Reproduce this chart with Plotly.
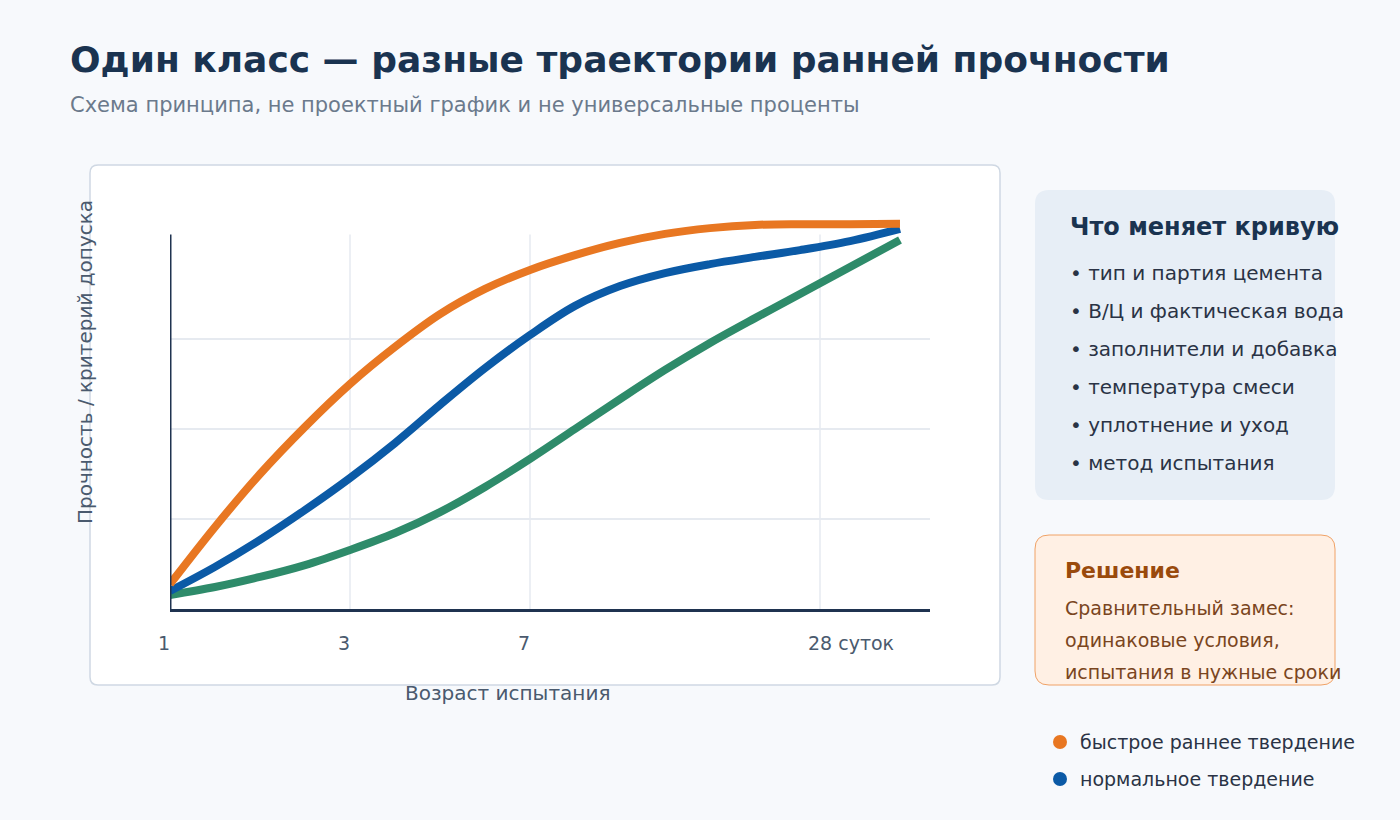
import plotly.graph_objects as go

W, H = 1400, 820

# schematic age axis (positions along the axis, not real days)
tick_pos = [0, 18, 36, 65]
tick_text = ["1", "3", "7", "28 суток"]
y_grid = [25, 50, 75]

# curves
age_x = [0, 4.5, 9, 13.5, 18, 22.5, 27, 31.5, 36, 40.5, 45, 49.5, 54, 58.5, 63, 68, 73]
fast_y = [6.9, 22.8, 37.5, 50.6, 62.5, 72.8, 81.9, 88.9, 94.2, 98.3, 101.7, 104.2, 105.8,
          106.7, 106.9, 106.9, 107.0]
norm_y = [5.0, 11.7, 19.2, 27.5, 36.4, 46.1, 56.7, 66.9, 76.1, 84.2, 89.7, 93.3, 95.8,
          97.8, 99.7, 102.2, 105.6]
slow_y = [3.9, 6.1, 8.9, 12.2, 16.4, 21.1, 26.9, 33.9, 41.7, 50.0, 58.3, 66.4, 73.9,
          80.8, 87.5, 95.0, 102.5]

names = ["быстрое раннее твердение", "нормальное твердение", "медленное твердение"]
colors = ["#e87722", "#0b5aa6", "#2e8b6a"]

factors = ["тип и партия цемента", "В/Ц и фактическая вода", "заполнители и добавка",
           "температура смеси", "уплотнение и уход", "метод испытания"]
decision = ["Сравнительный замес:", "одинаковые условия,", "испытания в нужные сроки"]

FONT = "DejaVu Sans"


def px(x):
    return x / W


def py(y):
    return 1 - y / H


def rounded(x0, y0, x1, y1, r):
    a, b, c, d = px(x0), py(y0), px(x1), py(y1)
    rx, ry = r / W, r / H
    return (f"M{a+rx},{b} L{c-rx},{b} Q{c},{b} {c},{b-ry} L{c},{d+ry} Q{c},{d} {c-rx},{d} "
            f"L{a+rx},{d} Q{a},{d} {a},{d+ry} L{a},{b-ry} Q{a},{b} {a+rx},{b} Z")


fig = go.Figure()
for ys, nm, col in [(slow_y, names[2], colors[2]),
                    (norm_y, names[1], colors[1]),
                    (fast_y, names[0], colors[0])]:
    fig.add_trace(go.Scatter(x=age_x, y=ys, mode="lines", name=nm, showlegend=False,
                             line=dict(color=col, width=8, shape="spline", smoothing=1.0),
                             hoverinfo="skip"))

shapes = [
    dict(type="path", path=rounded(90, 165, 1000, 685, 8), xref="paper", yref="paper",
         fillcolor="white", line=dict(color="#cfd8e3", width=1.5), layer="below"),
    dict(type="path", path=rounded(1035, 190, 1335, 500, 14), xref="paper", yref="paper",
         fillcolor="#e7eef6", line=dict(width=0), layer="below"),
    dict(type="path", path=rounded(1035, 535, 1335, 685, 14), xref="paper", yref="paper",
         fillcolor="#fff0e4", line=dict(color="#f0a266", width=1), layer="below"),
]
# vertical grid lines and y axis, stopping at the axis top
for t in tick_pos[1:]:
    shapes.append(dict(type="line", x0=t, x1=t, y0=0, y1=104, xref="x", yref="y",
                       line=dict(color="#e6eaf0", width=1.5), layer="below"))
shapes.append(dict(type="line", x0=0, x1=0, y0=0, y1=104, xref="x", yref="y",
                   line=dict(color="#1f3350", width=3)))

ann = [
    dict(text="<b>Один класс — разные траектории ранней прочности</b>", x=px(68), y=py(60),
         xanchor="left", font=dict(size=36, color="#1a3350")),
    dict(text="Схема принципа, не проектный график и не универсальные проценты", x=px(68), y=py(105),
         xanchor="left", font=dict(size=21, color="#6b7a8c")),
    dict(text="Прочность / критерий допуска", x=px(85), y=py(362), textangle=-90,
         font=dict(size=20, color="#4a5a6e")),
    dict(text="Возраст испытания", x=px(507), y=py(693), font=dict(size=20, color="#4a5a6e")),
    dict(text="<b>Что меняет кривую</b>", x=px(1068), y=py(227), xanchor="left",
         font=dict(size=24, color="#1a3350")),
    dict(text="<b>Решение</b>", x=px(1063), y=py(570), xanchor="left",
         font=dict(size=22, color="#9a4a0c")),
]
for t, lab in zip(tick_pos, tick_text):
    ann.append(dict(text=lab, x=t, xshift=-14, y=py(643), xref="x", xanchor="left",
                    font=dict(size=19, color="#4a5a6e")))
for i, f in enumerate(factors):
    ann.append(dict(text="• " + f, x=px(1068), y=py(273 + 38 * i), xanchor="left",
                    font=dict(size=20, color="#2a3345")))
for i, d in enumerate(decision):
    ann.append(dict(text=d, x=px(1063), y=py(608 + 32 * i), xanchor="left",
                    font=dict(size=19, color="#7a4520")))
for i in range(2):
    yy = 742 + 37 * i
    shapes.append(dict(type="circle", xref="paper", yref="paper",
                       x0=px(1053), x1=px(1067), y0=py(yy + 7), y1=py(yy - 7),
                       fillcolor=colors[i], line=dict(width=0)))
    ann.append(dict(text=names[i], x=px(1078), y=py(yy), xanchor="left",
                    font=dict(size=19, color="#2a3345")))

for a in ann:
    a.setdefault("xref", "paper")
    a.setdefault("yref", "paper")
    a.setdefault("xanchor", "center")
    a["yanchor"] = "middle"
    a["showarrow"] = False

fig.update_layout(
    width=W, height=H, margin=dict(l=0, r=0, t=0, b=0),
    paper_bgcolor="#f7f9fc", plot_bgcolor="rgba(0,0,0,0)",
    font=dict(family=FONT),
    shapes=shapes, annotations=ann,
    xaxis=dict(domain=[px(170), px(930)], range=[0, 76], showgrid=False, zeroline=False,
               showticklabels=False, showline=True, linecolor="#1f3350", linewidth=3,
               fixedrange=True),
    yaxis=dict(domain=[py(609), py(200)], range=[0, (609 - 200) / 3.6], tickvals=y_grid,
               showgrid=True, gridcolor="#e6eaf0", gridwidth=1.5, zeroline=False,
               showticklabels=False, showline=False, fixedrange=True),
)

fig.write_html("out.html", config={"displayModeBar": False},
               post_script="document.body.style.margin='0';")
